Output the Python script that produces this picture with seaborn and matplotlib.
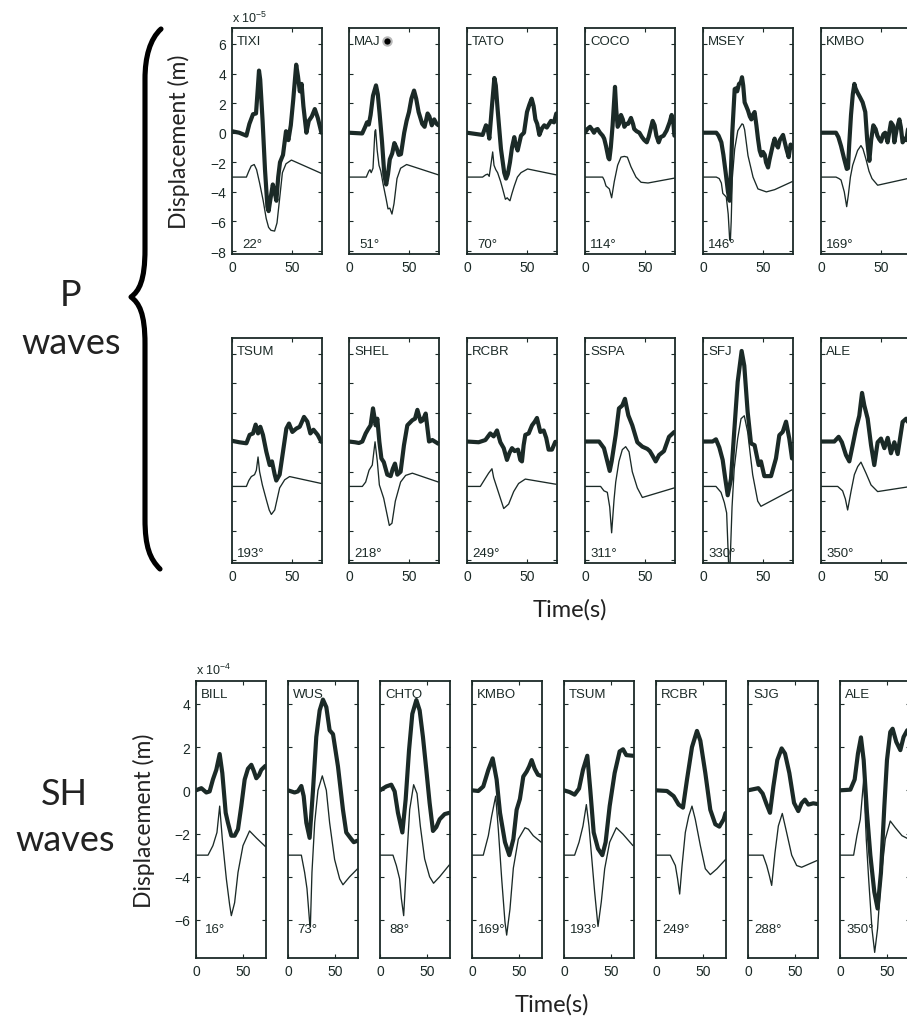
import numpy as np
import pandas as pd
import seaborn as sns
import matplotlib.pyplot as plt
from matplotlib.path import Path
from matplotlib.patches import PathPatch

# ---------------------------------------------------------------
# Data: (time s, displacement)
# P waves in units of 1e-5 m, SH waves in units of 1e-4 m
# *_OBS = thick trace (data), *_SYN = thin trace (synthetic, shifted -3)
# ---------------------------------------------------------------

# P waves, first row
TIXI_OBS = [(0, 0.1), (6, 0.0), (12, -0.2), (14.5, 0.6), (17.5, 1.25), (20, 1.3), (21.5, 3.0), (22.5, 4.2),
            (23.5, 3.6), (25.5, 0.8), (27.5, -2.5), (29.5, -5.0), (30.5, -5.3), (32, -4.5), (34, -3.5),
            (35.5, -4.0), (37, -4.6), (38.5, -3.0), (40, -2.0), (42.5, -1.5), (45, 0.1), (47, -0.5), (49, 0.5),
            (51, 2.2), (53.5, 4.6), (55, 3.8), (56.5, 2.8), (58, 3.3), (59.5, 1.8), (62, 0.0), (64, 0.8),
            (66.5, 1.1), (69, 1.6), (71.5, 1.0), (74.5, 0.0)]
TIXI_SYN = [(0, -3), (12, -3), (14, -2.6), (16, -2.25), (18.5, -2.15), (20.5, -2.5), (23, -3.4), (26, -4.6),
            (28.5, -5.8), (30.5, -6.4), (32.5, -6.6), (35.5, -6.65), (37.5, -6.1), (39.5, -4.6), (42, -2.7),
            (45, -2.1), (49.5, -1.85), (74.5, -2.75)]

MAJ_OBS = [(0, 0), (11, -0.05), (13.5, 0.4), (15, 0.7), (16.5, 0.55), (18, 1.2), (20, 2.5), (22.5, 3.2),
           (24, 2.6), (25.5, 1.3), (27.5, -0.6), (29.5, -2.9), (31, -3.5), (32.5, -2.8), (34, -1.8), (36, -1.4),
           (37.8, -0.7), (39.5, -1.0), (41.5, -1.5), (43.3, -1.45), (46, 0.0), (48, 0.8), (50, 1.4), (52, 2.3),
           (54.2, 2.85), (56, 2.3), (58, 1.4), (61, 0.6), (63, 0.4), (65.5, 1.3), (67, 1.1), (69, 0.5),
           (71, 0.9), (73, 0.6), (74.5, 0.5)]
MAJ_SYN = [(0, -3), (14.4, -3), (16.5, -2.6), (17.5, -2.5), (18.5, -2.7), (20, -2.4), (21.6, 0.1), (22.2, 0.2),
           (23.5, -1.2), (25, -2.2), (26.5, -2.6), (28.5, -3.5), (31, -4.5), (32.5, -5.15), (34, -5.1),
           (35.8, -5.5), (37.5, -4.8), (40, -3.1), (43, -2.4), (48, -2.15), (74.5, -2.85)]

TATO_OBS = [(0, 0), (13, -0.15), (15.8, 0.5), (17, 0.4), (18.6, -0.4), (20.8, 1.8), (22.8, 3.7), (24, 3.2),
            (25.5, 1.6), (28.3, -1.1), (31, -2.7), (32.5, -3.1), (34, -2.8), (35.8, -2.0), (37.5, -1.0),
            (39.4, -0.3), (40.5, -0.8), (42.2, -1.2), (45, -0.2), (47.5, 0.0), (50, 1.4), (52, 1.9), (53.9, 2.3),
            (55.5, 1.8), (57, 0.9), (58.5, 0.6), (60.3, -0.15), (62.5, 0.3), (64.4, 0.5), (66.5, 0.35),
            (70, 0.8), (72.5, 0.7), (74.4, 1.3)]
TATO_SYN = [(0, -3), (13, -3), (15.5, -2.85), (17.2, -2.8), (18.5, -2.95), (20.2, -2.0), (21.4, -1.3),
            (22.5, -2.2), (24, -2.5), (25.5, -2.7), (28, -3.3), (29.7, -3.8), (32, -4.5), (33.5, -4.4),
            (34.5, -4.5), (35.8, -4.6), (37.5, -4.1), (39.4, -3.6), (42, -3.0), (45, -2.7), (50.5, -2.45),
            (74.4, -2.85)]

COCO_OBS = [(0, 0.0), (2, 0.25), (4.2, 0.4), (6, 0.2), (7.5, 0.0), (9, 0.2), (10.5, 0.25), (12.5, 0.0),
            (14.7, -0.2), (16, -0.4), (17.5, -0.9), (19.5, -1.7), (20.3, -1.8), (21.5, -1.0), (23, 0.5),
            (25, 3.1), (26, 1.6), (27.2, 0.4), (28.5, 0.6), (30, 1.2), (31.5, 0.9), (32.8, 0.4), (34.5, 0.6),
            (36, 0.6), (38.3, 1.0), (40, 0.6), (41, 0.25), (43, 0.1), (45.3, 0.0), (47.5, -0.3), (49.4, -0.5),
            (51.5, -0.65), (53, -0.3), (56.4, 0.8), (58, 0.5), (59.5, -0.2), (61.4, -0.65), (63, -0.3),
            (65.5, -0.2), (68, 0.15), (70.5, 0.7), (72.2, 1.2), (73.5, 0.8), (74.5, -0.2)]
COCO_SYN = [(0, -3), (14.7, -3), (16, -3.2), (17.5, -3.6), (20.3, -3.8), (22.2, -4.4), (24.4, -3.3),
            (27.2, -2.2), (30, -1.65), (32.8, -1.6), (35.3, -1.65), (38.3, -2.3), (42.5, -3.0), (46.7, -3.35),
            (52.5, -3.4), (74.5, -3.07)]

MSEY_OBS = [(0, 0), (11.1, 0.0), (13, -0.2), (15.3, -0.65), (17, -1.5), (18.9, -2.7), (20.8, -4.0),
            (22.2, -4.6), (23.3, -2.5), (24.4, 0.0), (26.4, 2.95), (27.5, 3.0), (28.5, 2.8), (30, 3.3),
            (31.5, 3.4), (32.5, 3.75), (33.5, 3.2), (34.7, 2.05), (36, 1.8), (37.5, 1.5), (39, 1.1), (40.3, 0.9),
            (41.5, 1.2), (43, 1.4), (44.5, 0.5), (45.8, -0.4), (47.2, -1.2), (48.6, -1.55), (50, -1.3),
            (51.5, -1.5), (52.5, -2.0), (54.2, -2.35), (55.5, -1.8), (56.9, -1.3), (58.3, -0.8), (59.7, -0.4),
            (61, -0.8), (62.5, -1.0), (64, -0.5), (66.7, -0.15), (68, -0.6), (69.5, -1.1), (71.4, -1.65),
            (73, -0.8), (74.5, -1.0)]
MSEY_SYN = [(0, -3), (11.1, -3), (13.5, -3.1), (15.3, -3.4), (16.5, -4.1), (19.4, -4.35), (21, -5.5),
            (22.2, -7.2), (22.8, -7.3), (23.5, -6.0), (24.4, -3.1), (26.4, -1.1), (29, 0.14), (31, 0.4),
            (32.5, 0.6), (33.5, 0.55), (34.7, 0.2), (37.5, -1.55), (41.7, -3.0), (45.8, -3.8), (52.8, -4.0),
            (59.7, -3.85), (74.5, -3.3)]

KMBO_P_OBS = [(0, 0), (12.5, 0.0), (14.5, -0.3), (16.7, -0.9), (19.4, -1.8), (21.5, -2.45), (22.5, -2.4),
              (23.5, -0.8), (25, 1.2), (26.5, 2.6), (27.8, 3.3), (28.8, 3.0), (30.5, 2.7), (32.5, 2.4),
              (34.7, 2.05), (36.9, 1.4), (38.5, -0.5), (40.3, -1.9), (41.8, -0.5), (43.6, 0.5), (45.5, 0.25),
              (47, -0.2), (48.6, -0.45), (50, -0.6), (52, -0.1), (53.5, 0.0), (55.5, -0.65), (58.3, 0.7),
              (60, 0.5), (61.1, -0.65), (63, 0.2), (65.3, 0.9), (66.5, 0.4), (68, -0.65), (70, -0.4),
              (71.1, -0.5), (73, 0.5), (75, 0.8)]
KMBO_P_SYN = [(0, -3), (12.5, -3), (15, -3.1), (16.7, -3.2), (19.4, -4.0), (21.4, -5.0), (22.8, -4.2),
              (24.5, -3.0), (26.4, -2.2), (30.5, -1.2), (33.3, -0.87), (35, -1.1), (37.5, -1.8), (40, -2.6),
              (42.5, -3.1), (47.2, -3.55), (75, -3.05)]

# P waves, second row
TSUM_P_OBS = [(0, 0.1), (6, 0.0), (12, -0.07), (14.7, 0.5), (17.5, 0.6), (19.7, 1.2), (21.7, 0.6),
              (23.6, 1.05), (25.8, 0.5), (28.6, -0.64), (31.4, -1.55), (33.3, -1.3), (35.6, -2.2),
              (36.9, -2.6), (39.7, -2.2), (42.5, -0.64), (45.3, 0.93), (47.5, 1.27), (50.3, 0.7), (53.6, 0.93),
              (56.4, 1.05), (57.8, 1.3), (60, 1.72), (62.8, 1.4), (65.3, 0.6), (67.9, 0.85), (71.4, 0.5),
              (74.4, 0.03)]
TSUM_P_SYN = [(0, -3), (12, -3), (14, -2.6), (16.1, -2.33), (18.8, -2.2), (20.3, -1.9), (21.7, -1.0),
              (23, -2.0), (25.3, -2.9), (28.6, -3.9), (31, -4.6), (32.8, -4.9), (35.6, -4.6), (39.7, -3.1),
              (43.9, -2.55), (48, -2.33), (74.4, -2.8)]

SHEL_OBS = [(0, 0.05), (5, 0.0), (8.3, -0.05), (11.1, 0.05), (13.9, 0.6), (16, 0.9), (18, 1.15), (20, 2.3),
            (21, 1.8), (22.2, 1.15), (23.6, 1.6), (25.3, 0.03), (27, -1.1), (29, -1.35), (31.9, -2.2),
            (34.7, -2.3), (36.5, -1.8), (38.3, -1.45), (40.3, -2.2), (43, -2.0), (45.8, -0.2), (48.6, 1.15),
            (52.8, 1.5), (55, 1.6), (57, 2.2), (59.7, 1.4), (61.5, 1.5), (63.9, 1.95), (66.7, 0.05),
            (69.5, 0.15), (74.4, -0.1)]
SHEL_SYN = [(0, -3), (11.1, -3), (13.9, -2.7), (16.7, -1.9), (19.4, -1.55), (21.7, 0.03), (23.6, -1.3),
            (25.3, -2.9), (28.9, -3.8), (31.7, -4.9), (33.6, -5.65), (35.8, -5.5), (38.6, -4.0), (43, -2.7),
            (47.2, -2.25), (52.8, -2.1), (74.4, -2.7)]

RCBR_P_OBS = [(0, 0.05), (9.7, 0.0), (15.3, 0.15), (19.4, 0.6), (22.2, 0.4), (25, 0.8), (27.8, 0.0),
              (30.6, -0.4), (33.3, -1.2), (35.5, -0.7), (37.5, -0.4), (39.7, -0.6), (42.5, -0.5), (44.4, -1.2),
              (45.8, -1.3), (47.2, -0.2), (48.6, 0.5), (51.4, 0.6), (54.2, 1.15), (56.5, 1.4), (58.3, 1.65),
              (61.1, 0.7), (63.9, 0.8), (66, 0.3), (68, -0.5), (70.8, -0.5), (73.6, 0.03)]
RCBR_P_SYN = [(0, -3), (11.1, -3), (15.3, -2.45), (18, -2.1), (20.8, -1.8), (22.2, -2.4), (25, -3.1),
              (27.8, -3.8), (30.6, -4.5), (34.7, -4.2), (38.9, -3.35), (43, -2.8), (48.6, -2.5), (74, -2.85)]

SSPA_OBS = [(0, 0.05), (11.7, 0.05), (15.8, -0.4), (18.6, -1.3), (20.6, -1.95), (22.2, -1.3), (25.6, 0.5),
            (28.3, 2.3), (31.1, 2.5), (33.3, 2.95), (36.1, 1.83), (39.4, 1.15), (43.6, 0.0), (47.8, -0.3),
            (51.9, -0.45), (54, -0.6), (56, -0.87), (58.9, -1.3), (61.7, -0.87), (65.8, -0.6), (70, 0.37),
            (74.4, 0.7)]
SSPA_SYN = [(0, -3), (13, -3), (15.8, -3.3), (18.6, -3.4), (20.6, -4.4), (22.2, -6.15), (24.2, -3.9),
            (25.6, -2.7), (28.3, -1.3), (31.1, -0.5), (33.9, -0.3), (36.7, -0.65), (39.4, -2.0), (43.6, -3.1),
            (47.8, -3.75), (74.4, -3.1)]

SFJ_OBS = [(0, 0.05), (8, 0.05), (10.8, 0.2), (13.6, -0.35), (16.4, -1.2), (18.6, -2.5), (20.6, -3.6),
           (23.3, -2.5), (26, 0.7), (28.9, 4.1), (32.2, 6.2), (34.4, 5.2), (37.2, 2.07), (40, -0.08), (43, -0.2),
           (46.4, -1.55), (48.3, -1.3), (51.1, -2.3), (56.7, -2.3), (60.8, -1.1), (63.6, 0.48), (66.4, 0.7),
           (69.2, 1.4), (71.9, 0.25), (74.2, -1.1)]
SFJ_SYN = [(0, -3), (10.8, -3), (15, -3.4), (17.8, -4.1), (19.7, -4.8), (21.4, -8.4), (22.5, -8.4),
           (24.2, -4.4), (26, -1.8), (28.9, 0.25), (31.7, 1.6), (34.4, 1.8), (37.2, 0.7), (41.4, -2.2),
           (45.6, -4.0), (48.3, -4.35), (74.2, -3.23)]

ALE_P_OBS = [(0, 0.05), (11.1, 0.05), (14.7, 0.37), (17.4, 0.0), (20.8, -0.87), (23.6, -1.3), (26.4, -0.2),
             (29.2, 0.93), (31.9, 1.8), (34.2, 3.35), (36.1, 2.5), (38.9, 1.6), (41.7, -0.2), (44.4, -1.55),
             (47.2, 0.0), (50, 0.25), (52.8, -0.4), (55.6, 0.3), (58.3, -0.75), (61.1, 0.0), (63.9, -0.8),
             (68, 1.38), (71, 1.6), (75, 1.0)]
ALE_P_SYN = [(0, -3), (13.9, -3), (18, -3.3), (20.3, -3.85), (22.2, -4.6), (25, -3.35), (27.8, -2.2),
             (30.6, -1.65), (33.3, -1.35), (37.5, -2.1), (41.7, -2.9), (47.2, -3.35), (75, -3.0)]

# SH waves
BILL_OBS = [(0, 0), (5.7, 0.1), (11, -0.1), (14.5, -0.05), (18, 0.5), (21.6, 0.95), (25.2, 1.68), (28, 0.8),
            (31.6, -1.04), (34, -1.5), (37.6, -2.1), (41.1, -2.1), (44.7, -1.8), (48.2, -0.73), (51.8, 0.5),
            (55.3, 1.0), (58.9, 1.18), (61.5, 0.9), (64.2, 0.56), (67, 0.7), (69.5, 0.95), (73.8, 1.13)]
BILL_SYN = [(0, -3), (12.8, -3), (18, -2.56), (22.3, -1.95), (25.2, -0.73), (28, -2.26), (32.3, -4.1),
            (35.8, -5.3), (37.6, -5.8), (41.1, -5.2), (44.7, -3.8), (50, -2.56), (57, -1.88), (64.2, -2.2),
            (73.8, -2.6)]

WUS_OBS = [(0, 0), (7, -0.1), (10.5, -0.05), (14.2, 0.2), (16.7, -0.27), (19.5, -1.5), (23, -2.2), (26.6, 0.0),
           (30.1, 2.47), (33.7, 3.7), (37.2, 4.2), (40.8, 3.85), (44.3, 2.78), (47.9, 2.6), (53.2, 1.1),
           (58.5, -0.9), (62, -1.95), (67.4, -2.26), (70, -2.4), (74, -2.33)]
WUS_SYN = [(0, -3), (14.2, -3), (17.7, -3.8), (20.2, -4.55), (23, -6.1), (23.8, -6.3), (25.5, -3.8),
           (28.4, -1.5), (31.9, 0.0), (36.5, 0.67), (40.8, 0.0), (44.3, -1.5), (49.6, -3.2), (55, -4.1),
           (58.5, -4.37), (65.6, -4.0), (74, -3.63)]

CHTO_OBS = [(0, 0), (6.7, 0.18), (12, 0.26), (15.6, -0.05), (19.1, -1.04), (23.8, -1.95), (27.3, -0.43),
            (30.9, 1.86), (34.4, 3.54), (38.7, 4.18), (42.2, 3.7), (45.7, 2.47), (49.3, 0.95), (52.8, -0.58),
            (56.4, -1.88), (59.9, -1.7), (63.5, -1.34), (68.8, -1.1), (73.8, -1.04)]
CHTO_SYN = [(0, -3), (13.8, -3), (17.4, -3.48), (20.9, -4.1), (22.7, -5.0), (25.2, -5.8), (28, -3.5),
            (31.6, -0.89), (35.8, 0.26), (39.4, -0.15), (42.9, -1.65), (47.5, -3.17), (52.8, -4.0), (57, -4.3),
            (63.5, -4.0), (73.8, -3.45)]

KMBO_SH_OBS = [(0, 0), (6.7, -0.03), (12, 0.18), (17.4, 0.95), (22, 1.48), (26.2, 0.5), (29.8, -1.04),
               (35.1, -2.4), (39.7, -3.0), (44, -2.26), (47.5, -0.9), (51, -0.4), (54.6, 0.64), (58.2, 0.87),
               (60.8, 1.1), (63.5, 1.4), (66.7, 1.0), (70.2, 0.72), (73.6, 0.67)]
KMBO_SH_SYN = [(0, -3), (12, -3), (17.4, -2.1), (20.9, -1.2), (25.2, -0.27), (28, -1.8), (31.6, -4.1),
               (35.1, -6.1), (36.9, -6.7), (40.4, -5.5), (44, -3.6), (49.3, -2.26), (56.4, -1.73), (60, -1.8),
               (65.2, -2.1), (73.6, -2.4)]

TSUM_SH_OBS = [(0, 0), (6, -0.08), (11.3, -0.2), (16, 0.08), (20.2, 0.95), (24.8, 1.6), (28, 0.0),
               (31.6, -1.95), (36.2, -2.7), (40.8, -3.0), (44.3, -2.4), (48.6, -0.73), (53.9, 0.8), (59.2, 1.8),
               (62.8, 1.9), (66.3, 1.63), (73.4, 1.6)]
TSUM_SH_SYN = [(0, -3), (11.3, -3), (16, -2.4), (20.2, -1.65), (23.8, -0.66), (26.6, -1.65), (29, -2.87),
               (32.6, -4.7), (36.2, -6.3), (39.7, -5.16), (43.3, -3.63), (48.6, -2.4), (55.7, -1.73),
               (62.8, -2.03), (73.4, -2.56)]

RCBR_SH_OBS = [(0, 0), (11.7, -0.03), (18.8, -0.27), (24.1, -0.66), (28.7, -0.8), (33, 0.5), (38.3, 2.0),
               (43.6, 2.75), (47.2, 2.3), (52.5, 0.8), (57.8, -0.9), (63.1, -1.57), (67.4, -1.68), (72, -1.34),
               (74, -1.05)]
RCBR_SH_SYN = [(0, -3), (15.2, -3), (20.6, -3.48), (23, -4.1), (25.2, -4.8), (27.7, -3.5), (31.2, -1.95),
               (34.8, -1.2), (38.3, -0.73), (41.8, -1.34), (47.2, -2.56), (52.5, -3.63), (57.8, -3.9),
               (64.9, -3.63), (74, -3.2)]

SJG_OBS = [(0, 0), (11, 0.1), (15.6, -0.15), (19.9, -0.66), (23.4, -1.04), (27, 0.18), (31.2, 1.4),
           (35.8, 1.94), (39.4, 1.7), (44, 0.8), (49, -0.58), (53.5, -0.96), (57, -0.6), (60.6, -0.43),
           (64.2, -0.66), (69.5, -0.6), (73.4, -0.63)]
SJG_SYN = [(0, -3), (16, -3), (19.9, -3.48), (22.7, -3.94), (25.2, -4.4), (28.7, -2.9), (32.3, -1.65),
           (36.5, -1.07), (41.1, -1.95), (46.5, -3.0), (51.8, -3.48), (57.1, -3.56), (73.4, -3.25)]

ALE_SH_OBS = [(0, 0), (11, 0.03), (15.6, 0.5), (19.1, 1.7), (22.3, 2.45), (25.2, 1.4), (28.7, -1.04),
              (32.3, -3.0), (36.5, -4.7), (40, -5.47), (43.6, -3.8), (47.2, -0.73), (50, 1.4), (53.5, 2.7),
              (56, 2.85), (59.9, 2.24), (64.2, 1.86), (67.7, 2.47), (71.6, 2.78), (75, 2.8)]
ALE_SH_SYN = [(0, -3), (14.5, -3), (18, -2.1), (21.6, -1.34), (25.2, 0.5), (28, -2.3), (30.5, -4.1),
              (34, -6.4), (36.9, -7.5), (40, -6.4), (43.6, -4.1), (48.2, -2.26), (53.5, -1.42), (58.9, -1.73),
              (66, -2.1), (75, -2.3)]

# station, azimuth label, observed, synthetic
P_ROW1 = [("TIXI", "22°", TIXI_OBS, TIXI_SYN), ("MAJ", "51°", MAJ_OBS, MAJ_SYN),
          ("TATO", "70°", TATO_OBS, TATO_SYN), ("COCO", "114°", COCO_OBS, COCO_SYN),
          ("MSEY", "146°", MSEY_OBS, MSEY_SYN), ("KMBO", "169°", KMBO_P_OBS, KMBO_P_SYN)]
P_ROW2 = [("TSUM", "193°", TSUM_P_OBS, TSUM_P_SYN), ("SHEL", "218°", SHEL_OBS, SHEL_SYN),
          ("RCBR", "249°", RCBR_P_OBS, RCBR_P_SYN), ("SSPA", "311°", SSPA_OBS, SSPA_SYN),
          ("SFJ", "330°", SFJ_OBS, SFJ_SYN), ("ALE", "350°", ALE_P_OBS, ALE_P_SYN)]
SH_ROW = [("BILL", "16°", BILL_OBS, BILL_SYN), ("WUS", "73°", WUS_OBS, WUS_SYN),
          ("CHTO", "88°", CHTO_OBS, CHTO_SYN), ("KMBO", "169°", KMBO_SH_OBS, KMBO_SH_SYN),
          ("TSUM", "193°", TSUM_SH_OBS, TSUM_SH_SYN), ("RCBR", "249°", RCBR_SH_OBS, RCBR_SH_SYN),
          ("SJG", "288°", SJG_OBS, SJG_SYN), ("ALE", "350°", ALE_SH_OBS, ALE_SH_SYN)]

P_YTICKS = [-8, -6, -4, -2, 0, 2, 4, 6]
SH_YTICKS = [-6, -4, -2, 0, 2, 4]
X_TICKS = [0, 50]

# ---------------------------------------------------------------
# Style
# ---------------------------------------------------------------
sns.set_theme(style="ticks")
plt.rcParams["font.family"] = ["Liberation Sans", "DejaVu Sans"]
plt.rcParams["mathtext.fontset"] = "custom"
plt.rcParams["mathtext.rm"] = "Liberation Sans"
plt.rcParams["mathtext.it"] = "Liberation Sans"
plt.rcParams["mathtext.default"] = "regular"

INK = "#1b2a27"
BIG = ["Lato", "DejaVu Sans"]
W, H = 907, 1020

fig = plt.figure(figsize=(W / 100, H / 100), dpi=100)
fig.patch.set_facecolor("white")


def box(left, top, width, height):
    return [left / W, 1 - (top + height) / H, width / W, height / H]


def panel(rect, station, azim, obs, syn, ylim, yticks, xlim, first, sh=False):
    ax = fig.add_axes(rect)
    df_obs = pd.DataFrame(obs, columns=["t", "disp"])
    df_syn = pd.DataFrame(syn, columns=["t", "disp"])
    sns.lineplot(data=df_syn, x="t", y="disp", ax=ax, color=INK, linewidth=0.95,
                 sort=False, estimator=None, zorder=4)
    sns.lineplot(data=df_obs, x="t", y="disp", ax=ax, color=INK, linewidth=3.0,
                 sort=False, estimator=None, zorder=5, solid_joinstyle="round")
    ax.set_xlim(*xlim)
    ax.set_ylim(*ylim)
    ax.set_xticks(X_TICKS)
    ax.set_yticks(yticks)
    ax.set_xlabel("")
    ax.set_ylabel("")
    ax.tick_params(direction="in", length=3, width=0.8, top=True, right=True,
                   colors=INK, labelsize=10, pad=4, labelleft=first)
    for s in ax.spines.values():
        s.set_color(INK)
        s.set_linewidth(1.3)
    pw = rect[2] * W
    ph = rect[3] * H
    ax.text(5 / pw, 1 - 13 / ph, station, transform=ax.transAxes, fontsize=9.5,
            color=INK, ha="left", va="center", zorder=3)
    if sh:
        dx = 9 / pw if len(azim) < 4 else 6 / pw
        dy = 29 / ph
    else:
        dx = 10 / pw if len(azim) < 4 else 5 / pw
        dy = 10 / ph
    ax.text(dx, dy, azim, transform=ax.transAxes, fontsize=9.5, color=INK,
            ha="left", va="center", zorder=3)
    return ax


P_LEFTS = [232, 349, 467, 585, 703, 821]
SH_LEFTS = [196, 288, 380, 472, 564, 656, 748, 840]
P_YLIM = (-8.2, 7.08)
SH_YLIM = (-7.76, 5.06)

for i, (st, az, ob, sy) in enumerate(P_ROW1):
    ax = panel(box(P_LEFTS[i], 29, 90, 226), st, az, ob, sy, P_YLIM, P_YTICKS, (0, 75), i == 0)
    if i == 0:
        ax.set_ylabel("Displacement (m)", family=BIG, fontsize=16.5, color="#222222")
        ax.yaxis.set_label_coords((190 - 232) / 90, 0.5)
    if st == "MAJ":
        ax.plot([(387 - 349) / 90], [1 - 13 / 226], "o", transform=ax.transAxes, ms=6,
                mfc="black", mec="#b8b8b8", mew=1.5, zorder=6, clip_on=False)

for i, (st, az, ob, sy) in enumerate(P_ROW2):
    panel(box(P_LEFTS[i], 339, 90, 225), st, az, ob, sy, P_YLIM, P_YTICKS, (0, 75), False)

for i, (st, az, ob, sy) in enumerate(SH_ROW):
    ax = panel(box(SH_LEFTS[i], 682, 70, 277), st, az, ob, sy, SH_YLIM, SH_YTICKS, (0, 74.5),
               i == 0, sh=True)
    if i == 0:
        ax.set_ylabel("Displacement (m)", family=BIG, fontsize=16.5, color="#222222")
        ax.yaxis.set_label_coords((155 - 196) / 70, 0.5)

# exponent labels
fig.text(232 / W, 1 - 18 / H, r"x 10$^{-5}$", fontsize=9, color=INK, ha="left", va="center")
fig.text(196 / W, 1 - 670 / H, r"x 10$^{-4}$", fontsize=9, color=INK, ha="left", va="center")

# time labels
fig.text(570 / W, 1 - 610 / H, "Time(s)", family=BIG, fontsize=17,
         color="#222222", ha="center", va="center")
fig.text(552 / W, 1 - 1005 / H, "Time(s)", family=BIG, fontsize=17,
         color="#222222", ha="center", va="center")

# group labels
for txt, x, y in [("P", 71, 295), ("waves", 71, 343), ("SH", 64, 795), ("waves", 65, 841)]:
    fig.text(x / W, 1 - y / H, txt, family=BIG, fontsize=26,
             color="#222222", ha="center", va="center")

# curly brace for the P-wave block
C, L, M = Path.CURVE4, Path.LINETO, Path.MOVETO
pts = [(161, 30), (150, 40), (145, 58), (145, 80),
       (145, 250), (145, 282), (139, 292), (131, 298),
       (139, 304), (145, 314), (145, 345),
       (145, 520), (145, 548), (150, 560), (160, 570)]
codes = [M, C, C, C, L, C, C, C, C, C, C, L, C, C, C]
verts = [(x / W, 1 - y / H) for x, y in pts]
fig.add_artist(PathPatch(Path(verts, codes), transform=fig.transFigure, fill=False,
                         lw=3.7, edgecolor="black", capstyle="round", joinstyle="round"))

fig.savefig("out.png", dpi=100)
